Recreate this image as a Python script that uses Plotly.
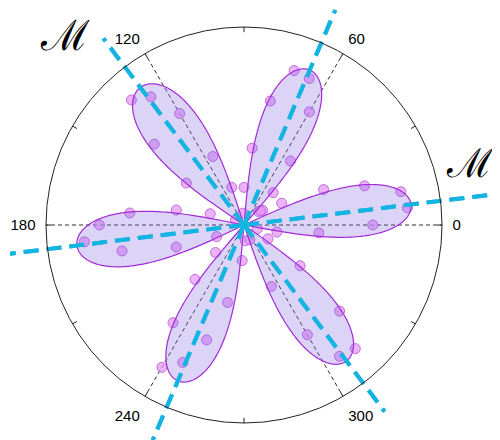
import numpy as np
import plotly.graph_objects as go

# ---------------- data ----------------
petal_angle = [7, 67, 127, 187, 247, 307]          # degrees
petal_length = [0.85, 0.85, 0.87, 0.85, 0.855, 0.86]
petal_halfwidth = [17.5, 18, 19, 18.5, 18, 18]     # degrees
line_extent = [1.29, 1.18, 1.18, 1.19, 1.18, 1.18]  # cyan half-line lengths (7..307)
opposite_extent = [1.19, 1.18, 1.18, 1.29, 1.18, 1.18]  # for angle+180

theta_pts = [12, 6, 18, 0, 24, -6, 30, -12, 43, 38, -16,
             72, 66, 78, 60, 84, 54, 90, 48, 41, 95,
             132, 126, 120, 138, 114.5, 144, 108, 150,
             186, 180, 174, 192, 167.5, 198, 161.6, 203,
             240, 246, 234, 252, 228, 258, 224, 267, 275,
             312, 306, 318, 300, 324, 294, 330, 292]
r_pts = [0.81, 0.83, 0.64, 0.65, 0.44, 0.38, 0.22, 0.17, 0.10, 0.12, 0.07,
         0.82, 0.81, 0.64, 0.66, 0.39, 0.40, 0.19, 0.22, 0.11, 0.06,
         0.85, 0.80, 0.65, 0.61, 0.38, 0.36, 0.20, 0.05,
         0.81, 0.73, 0.58, 0.63, 0.35, 0.36, 0.18, 0.15,
         0.83, 0.76, 0.61, 0.61, 0.37, 0.40, 0.20, 0.18, 0.08,
         0.84, 0.82, 0.65, 0.64, 0.35, 0.34, 0.14, 0.08]

label_angles = [0, 60, 120, 180, 240, 300]
label_text = ["0", "60", "120", "180", "240", "300"]
minor_tick_angles = [0, 30, 60, 90, 120, 150, 180, 210, 240, 270, 300, 330]
grid_angles = [0, 60, 120, 180, 240, 300]

# ---------------- page geometry ----------------
W, H = 500, 440
OFF = 8               # page body margin offset
CX, CY = 244 - OFF, 225 - OFF   # polar centre in figure px (from top-left)
R = 198               # polar radius in px

CYAN = "#14b4e2"
CYAN_DASH = "15px,8px"
fig = go.Figure()

half_angles = petal_angle + [a + 180 for a in petal_angle]
half_ext = line_extent + opposite_extent

# cyan lines running past the circle (cartesian overlay with the same scale)
for a, e in zip(half_angles, half_ext):
    rr = np.array([0.0, e])
    th = np.deg2rad(a)
    fig.add_trace(go.Scatter(x=rr * np.cos(th), y=rr * np.sin(th), mode="lines",
                             line=dict(color=CYAN, width=4, dash=CYAN_DASH),
                             xaxis="x", yaxis="y", hoverinfo="skip", showlegend=False))

# radial dashed gridlines
for g in grid_angles:
    fig.add_trace(go.Scatterpolar(r=[0, 1], theta=[g, g], mode="lines",
                                  line=dict(color="#333333", width=1, dash="4px,3px"),
                                  hoverinfo="skip", showlegend=False))

# inward tick marks on the rim
for t in minor_tick_angles:
    fig.add_trace(go.Scatterpolar(r=[0.974, 1], theta=[t, t], mode="lines",
                                  line=dict(color="#222222", width=1),
                                  hoverinfo="skip", showlegend=False))

# scatter points
fig.add_trace(go.Scatterpolar(r=r_pts, theta=theta_pts, mode="markers",
                              marker=dict(size=10, color="rgba(228,150,245,0.72)",
                                          line=dict(color="rgba(185,90,215,0.85)", width=1)),
                              showlegend=False))

# petals
for a, L, w in zip(petal_angle, petal_length, petal_halfwidth):
    d = np.linspace(-w, w, 241)
    rr = L * np.sqrt(np.clip(1 - (d / w) ** 2, 0, None))
    fig.add_trace(go.Scatterpolar(r=rr, theta=a + d, mode="lines", fill="toself",
                                  fillcolor="rgba(130,100,225,0.28)",
                                  line=dict(color="#a22bd6", width=1.2),
                                  hoverinfo="skip", showlegend=False))

# cyan lines inside the circle (on top of the petals)
for a in half_angles:
    fig.add_trace(go.Scatterpolar(r=[0, 1], theta=[a, a], mode="lines",
                                  line=dict(color=CYAN, width=4, dash=CYAN_DASH),
                                  hoverinfo="skip", showlegend=False))

fig.update_layout(
    width=W, height=H, margin=dict(l=0, r=0, t=0, b=0),
    paper_bgcolor="white", plot_bgcolor="rgba(0,0,0,0)",
    xaxis=dict(domain=[0, 1], range=[(0 - CX) / R, (W - CX) / R], visible=False, fixedrange=True),
    yaxis=dict(domain=[0, 1], range=[-(H - CY) / R, CY / R], visible=False, fixedrange=True),
    polar=dict(
        domain=dict(x=[(CX - R) / W, (CX + R) / W], y=[(H - CY - R) / H, (H - CY + R) / H]),
        bgcolor="white",
        radialaxis=dict(range=[0, 1], visible=False),
        angularaxis=dict(tickmode="array", tickvals=label_angles, ticktext=label_text,
                         direction="counterclockwise", rotation=0,
                         showgrid=False, showline=True, linecolor="#222222", linewidth=1,
                         ticks="outside", ticklen=7, tickcolor="rgba(0,0,0,0)",
                         tickfont=dict(family="Liberation Sans, Arial", size=15, color="black")),
    ),
    annotations=[
        dict(text="ℳ", x=(65 - OFF) / W, y=1 - (35 - OFF) / H, xref="paper", yref="paper",
             xanchor="center", yanchor="middle", showarrow=False,
             font=dict(family="DejaVu Serif", size=42, color="black")),
        dict(text="ℳ", x=(470 - OFF) / W, y=1 - (163 - OFF) / H, xref="paper", yref="paper",
             xanchor="center", yanchor="middle", showarrow=False,
             font=dict(family="DejaVu Serif", size=40, color="black")),
    ],
)

fig.write_html("out.html")
